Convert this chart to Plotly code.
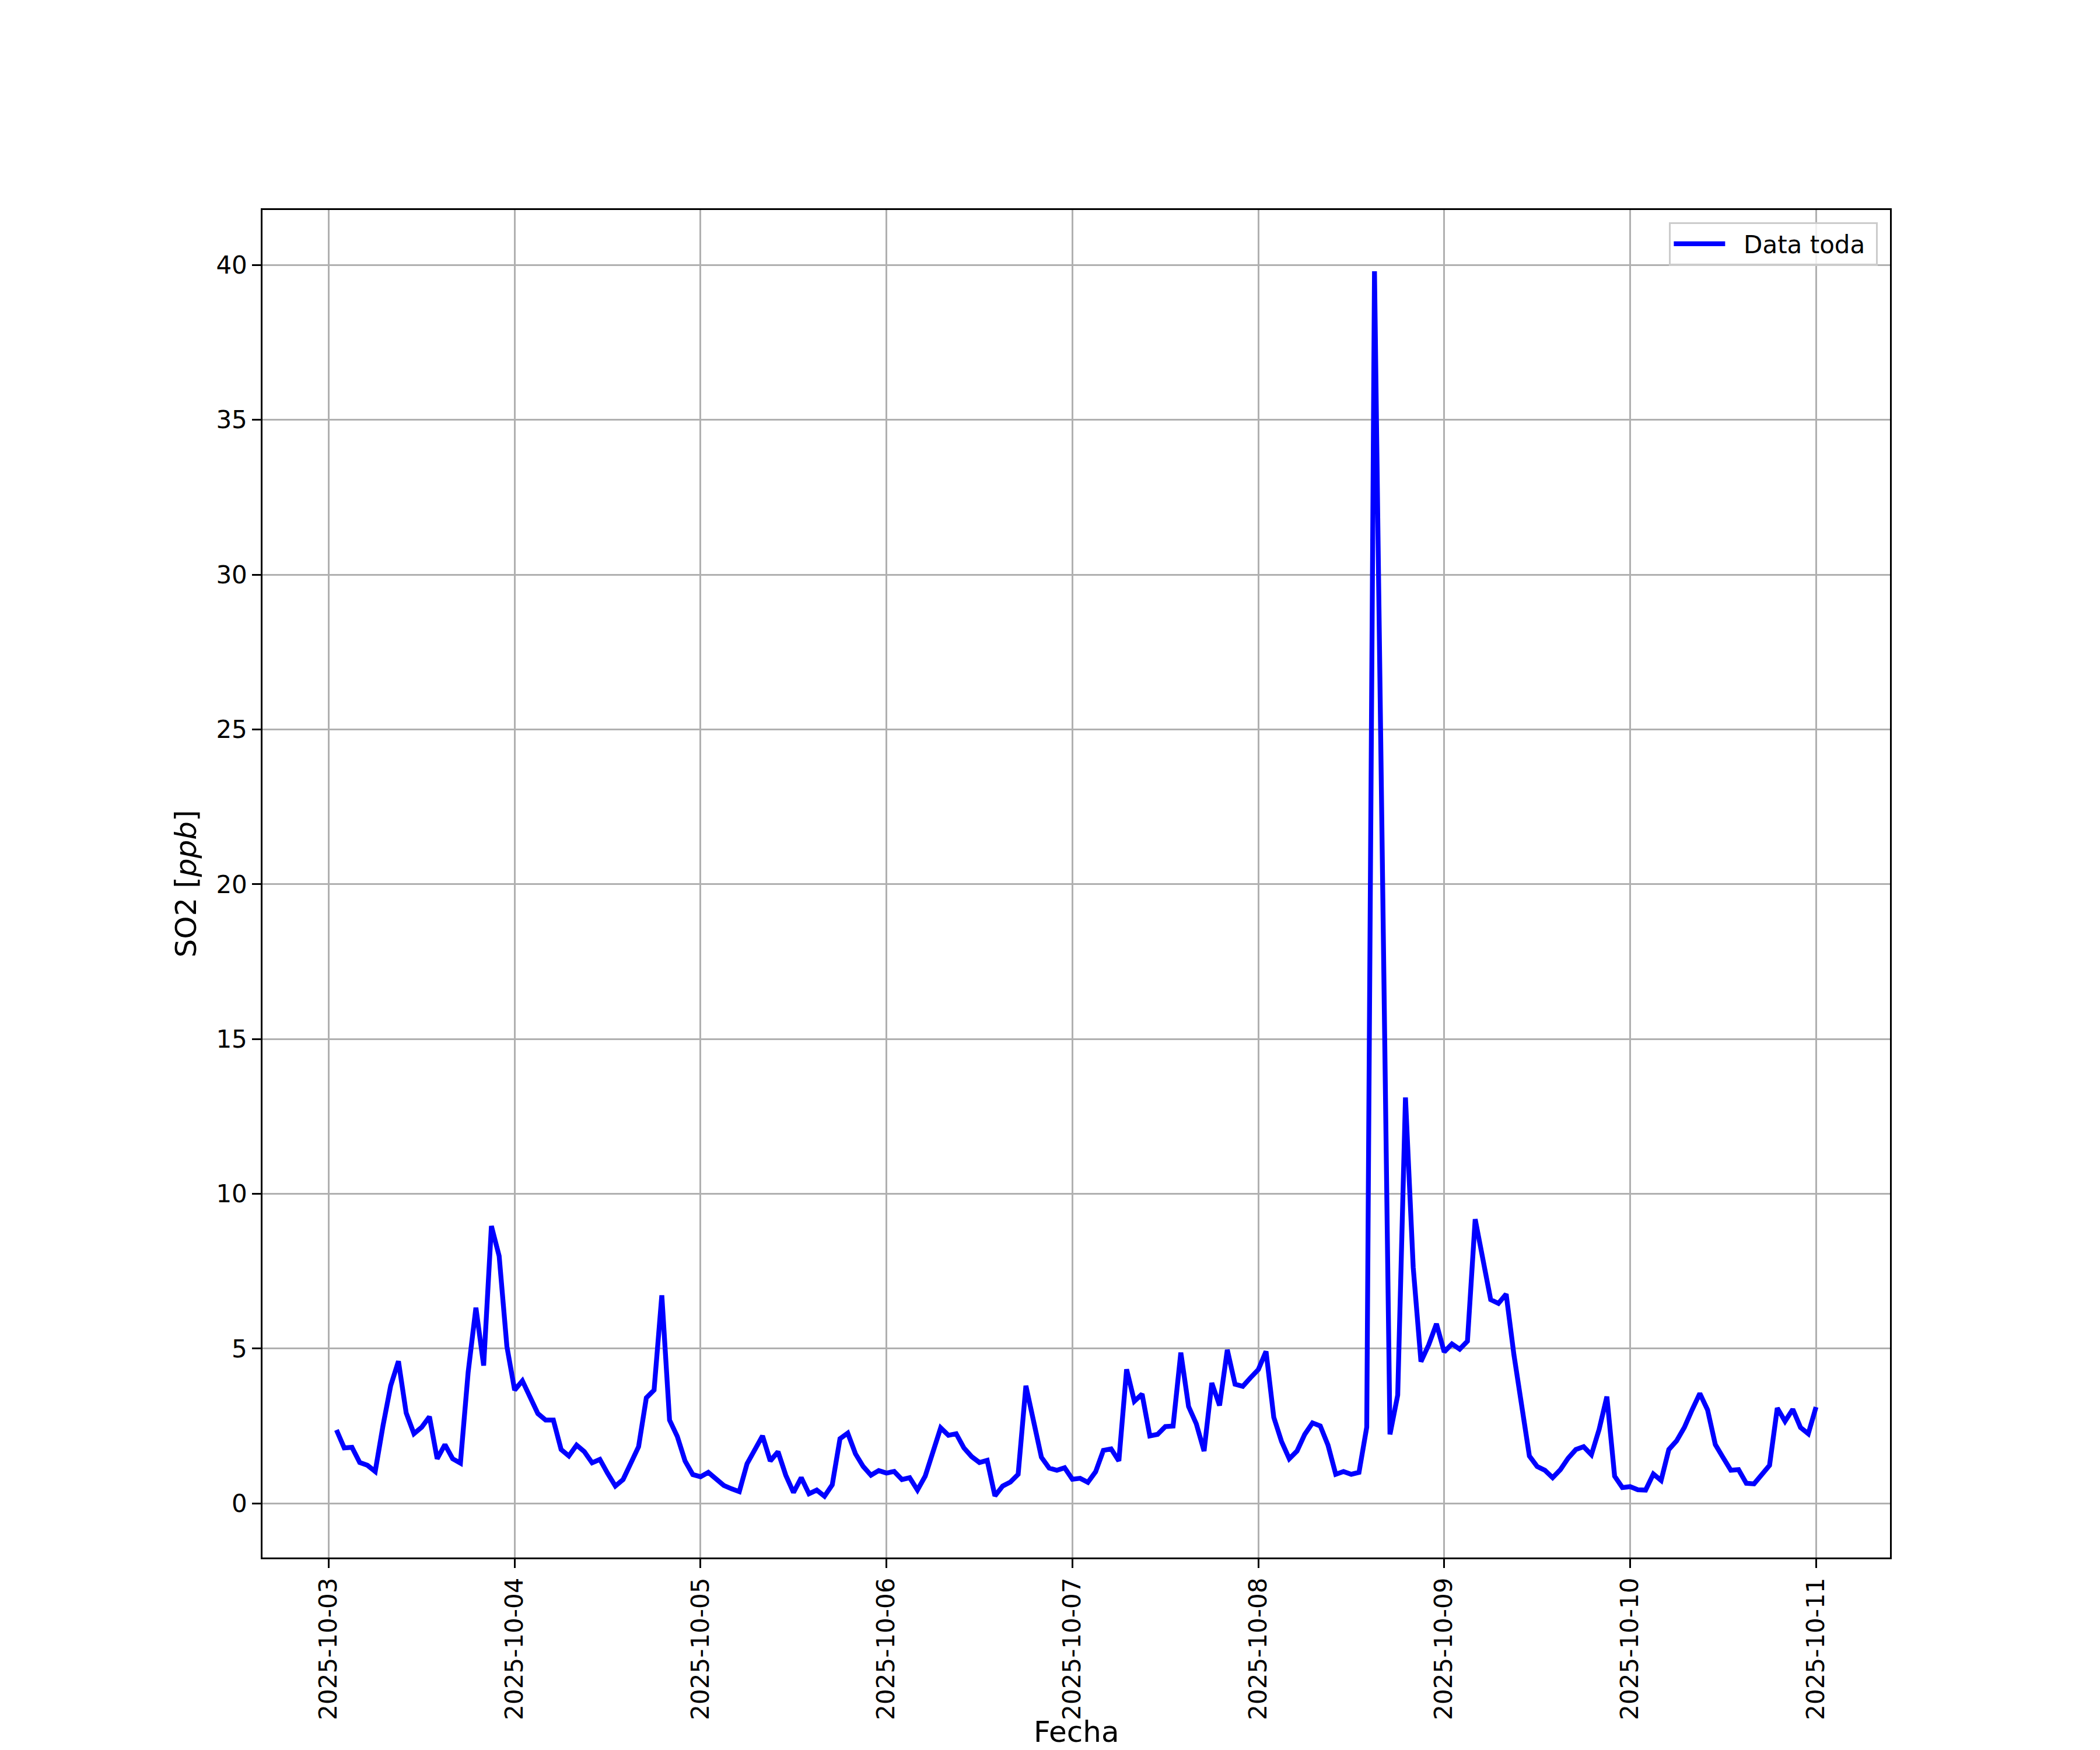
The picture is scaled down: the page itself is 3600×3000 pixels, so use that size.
import pandas as pd
import plotly.graph_objects as go

# Hourly SO2 readings, 2025-10-03 01:00 .. 2025-10-11 00:00
start_time = "2025-10-03 01:00"
day1 = [2.37, 1.79, 1.81, 1.32, 1.23, 1.03, 2.50, 3.80, 4.59, 2.92, 2.25, 2.46,
        2.80, 1.44, 1.90, 1.44, 1.30, 4.24, 6.32, 4.45, 8.96, 7.99, 5.07, 3.66]
day2 = [3.96, 3.43, 2.90, 2.69, 2.69, 1.74, 1.53, 1.88, 1.67, 1.31, 1.42, 0.97,
        0.56, 0.77, 1.30, 1.83, 3.41, 3.66, 6.72, 2.69, 2.16, 1.37, 0.93, 0.86]
day3 = [1.00, 0.80, 0.58, 0.47, 0.38, 1.28, 1.74, 2.18, 1.37, 1.67, 0.91, 0.35,
        0.83, 0.31, 0.43, 0.23, 0.60, 2.09, 2.27, 1.60, 1.19, 0.91, 1.06, 0.98]
day4 = [1.03, 0.77, 0.83, 0.43, 0.88, 1.65, 2.44, 2.20, 2.25, 1.79, 1.51, 1.32,
        1.39, 0.24, 0.56, 0.69, 0.94, 3.80, 2.71, 1.49, 1.14, 1.07, 1.15, 0.78]
day5 = [0.81, 0.68, 1.02, 1.71, 1.76, 1.37, 4.33, 3.30, 3.53, 2.18, 2.23, 2.48,
        2.50, 4.87, 3.13, 2.57, 1.69, 3.89, 3.16, 4.96, 3.85, 3.78, 4.06, 4.32]
day6 = [4.91, 2.78, 2.00, 1.44, 1.69, 2.23, 2.60, 2.50, 1.88, 0.94, 1.03, 0.94,
        1.00, 2.46, 39.8, 20.8, 2.23, 3.50, 13.11, 7.62, 4.58, 5.12, 5.80, 4.89]
day7 = [5.15, 4.98, 5.24, 9.18, 7.85, 6.58, 6.46, 6.76, 4.80, 3.15, 1.53, 1.19,
        1.07, 0.83, 1.09, 1.46, 1.74, 1.83, 1.57, 2.39, 3.45, 0.88, 0.51, 0.54]
day8 = [0.44, 0.43, 0.95, 0.74, 1.74, 2.02, 2.45, 3.02, 3.55, 3.02, 1.90, 1.48,
        1.07, 1.09, 0.65, 0.63, 0.95, 1.23, 3.08, 2.65, 3.04, 2.45, 2.25, 3.11]

so2 = day1 + day2 + day3 + day4 + day5 + day6 + day7 + day8
fecha = pd.date_range(start_time, periods=len(so2), freq="h")

x_ticks = pd.date_range("2025-10-03", "2025-10-11", freq="D")
x_ticklabels = [d.strftime("%Y-%m-%d") for d in x_ticks]
y_ticks = [0, 5, 10, 15, 20, 25, 30, 35, 40]

# matplotlib-like 5% margins
span = fecha[-1] - fecha[0]
x_range = [fecha[0] - 0.05 * span, fecha[-1] + 0.05 * span]
ymin, ymax = min(so2), max(so2)
yspan = ymax - ymin
y_range = [ymin - 0.05 * yspan, ymax + 0.05 * yspan]

FONT = "DejaVu Sans"
LW = 3.33

fig = go.Figure()
fig.add_trace(go.Scatter(
    x=fecha, y=so2, mode="lines", name="\u00a0\u00a0Data toda\u00a0",
    line=dict(color="#0000ff", width=8.3),
))

fig.update_layout(
    width=3600, height=3000,
    margin=dict(l=450, r=360, t=360, b=330, autoexpand=False),
    paper_bgcolor="white", plot_bgcolor="white",
    font=dict(family=FONT, size=42, color="black"),
    showlegend=True,
    legend=dict(
        x=0.9925, y=0.991, xanchor="right", yanchor="top",
        bgcolor="rgba(255,255,255,0.8)", bordercolor="#cccccc", borderwidth=3.3,
        font=dict(family=FONT, size=42, color="black"),
        itemwidth=88,
    ),
    annotations=[dict(
        text="Fecha", xref="paper", yref="paper", x=0.5, y=-0.1295,
        xanchor="center", yanchor="middle", showarrow=False,
        font=dict(family=FONT, size=50, color="black"),
    )],
)

fig.update_xaxes(
    type="date", range=x_range,
    tickmode="array", tickvals=x_ticks, ticktext=x_ticklabels,
    tickangle=-90,
    ticks="outside", ticklen=14.6, tickwidth=LW, tickcolor="black",
    showline=True, linecolor="black", linewidth=LW, mirror=True,
    showgrid=True, gridcolor="#b0b0b0", gridwidth=LW,
    zeroline=False,
    tickfont=dict(family=FONT, size=42, color="black"),
    automargin=False,
)
fig.update_yaxes(
    range=y_range,
    tickmode="array", tickvals=y_ticks, ticktext=[str(v) for v in y_ticks],
    ticks="outside", ticklen=14.6, tickwidth=LW, tickcolor="black",
    showline=True, linecolor="black", linewidth=LW, mirror=True,
    showgrid=True, gridcolor="#b0b0b0", gridwidth=LW,
    zeroline=False,
    tickfont=dict(family=FONT, size=42, color="black"),
    title=dict(text="SO2 [<i>ppb</i>]", font=dict(family=FONT, size=50, color="black"), standoff=18),
    automargin=False,
)

fig.write_html(
    "out.html",
    config={"displayModeBar": False},
    post_script="document.body.style.margin='0';document.body.style.overflow='hidden';",
)
